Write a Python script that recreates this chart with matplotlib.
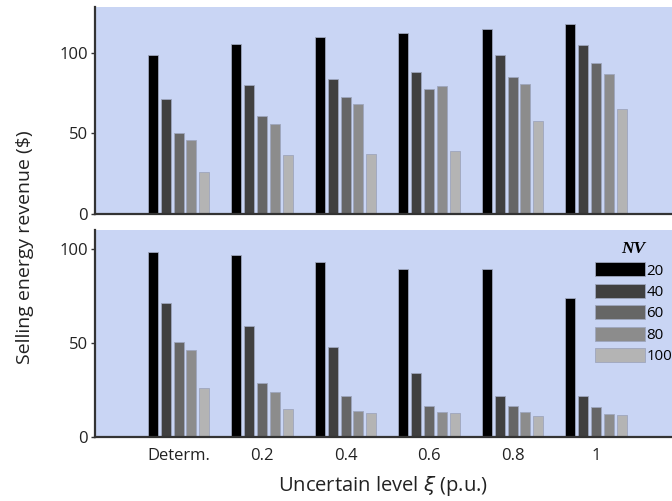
import matplotlib
matplotlib.use("Agg")
import matplotlib.pyplot as plt
import numpy as np

plt.rcParams['font.family'] = ['Open Sans', 'DejaVu Sans']
plt.rcParams['mathtext.fontset'] = 'dejavusans'

categories = ['Determ.', '0.2', '0.4', '0.6', '0.8', '1']
nv_labels = ['20', '40', '60', '80', '100']
colors = ['#000000', '#404040', '#666666', '#8c8c8c', '#b4b4b4']

# top panel, one row per NV level, one column per uncertainty level
top_vals = [
    [98.8, 105.4, 109.7, 112.2, 114.9, 117.8],
    [71.4, 80.1, 84.0, 88.4, 98.9, 105.0],
    [50.1, 61.1, 72.7, 77.8, 85.1, 93.6],
    [46.0, 55.9, 68.5, 79.7, 80.9, 87.1],
    [25.9, 36.6, 37.1, 38.9, 57.8, 65.0],
]
bottom_vals = [
    [98.6, 97.0, 92.9, 89.4, 89.2, 73.8],
    [71.3, 58.9, 47.7, 34.2, 22.0, 21.6],
    [50.4, 28.7, 22.0, 16.7, 16.5, 15.8],
    [46.1, 23.8, 13.7, 13.3, 13.1, 12.4],
    [26.2, 14.7, 12.9, 12.9, 11.3, 11.7],
]

bg = '#c9d5f4'
spine_col = '#333333'
x = np.arange(1, len(categories) + 1)
step = 0.153
width = 0.12

fig = plt.figure(figsize=(6.72, 5.01), dpi=100)
ax_top = fig.add_axes([0.1414, 0.5729, 0.8586, 0.4131])
ax_bot = fig.add_axes([0.1414, 0.1277, 0.8586, 0.4131])

def draw_panel(ax, vals, ymax):
    ax.set_facecolor(bg)
    for i, series in enumerate(vals):
        ax.bar(x + (i - 2) * step, series, width, color=colors[i],
               edgecolor='#9ea6bd', linewidth=0.6, label=nv_labels[i], zorder=2)
    ax.set_xlim(0, 6.91)
    ax.set_ylim(0, ymax)
    ax.set_yticks([0, 50, 100])
    ax.set_xticks(x)
    for s in ['top', 'right']:
        ax.spines[s].set_visible(False)
    for s in ['left', 'bottom']:
        ax.spines[s].set_color(spine_col)
        ax.spines[s].set_linewidth(1.6)
        ax.spines[s].set_zorder(3)
    ax.tick_params(axis='y', direction='out', length=3, width=1, color=spine_col,
                   labelsize=12, labelcolor='#222222', pad=2)
    ax.tick_params(axis='x', direction='in', length=6, width=1.6, color=spine_col,
                   labelsize=12, labelcolor='#222222', pad=8)

draw_panel(ax_top, top_vals, 128.5)
draw_panel(ax_bot, bottom_vals, 110)
ax_top.set_xticklabels([])
ax_bot.set_xticklabels(categories)
ax_bot.set_xlabel(r'Uncertain level $\xi$ (p.u.)', fontsize=14.5, color='#222222', labelpad=7)

fig.text(0.037, 0.507, 'Selling energy revenue ($)', rotation=90, ha='center',
         va='center', fontsize=14, color='#222222')

leg = ax_bot.legend(loc='upper left', bbox_to_anchor=(0.8666, 0.947), frameon=False,
                    borderaxespad=0, borderpad=0,
                    handlelength=3.3, handleheight=1.05, handletextpad=0.12,
                    labelspacing=0.36, fontsize=10.8, title='NV')
leg.get_title().set_fontfamily('Liberation Serif')
leg.get_title().set_fontstyle('italic')
leg.get_title().set_fontweight('bold')
leg.get_title().set_fontsize(12.5)

fig.savefig('out.png', dpi=100)
